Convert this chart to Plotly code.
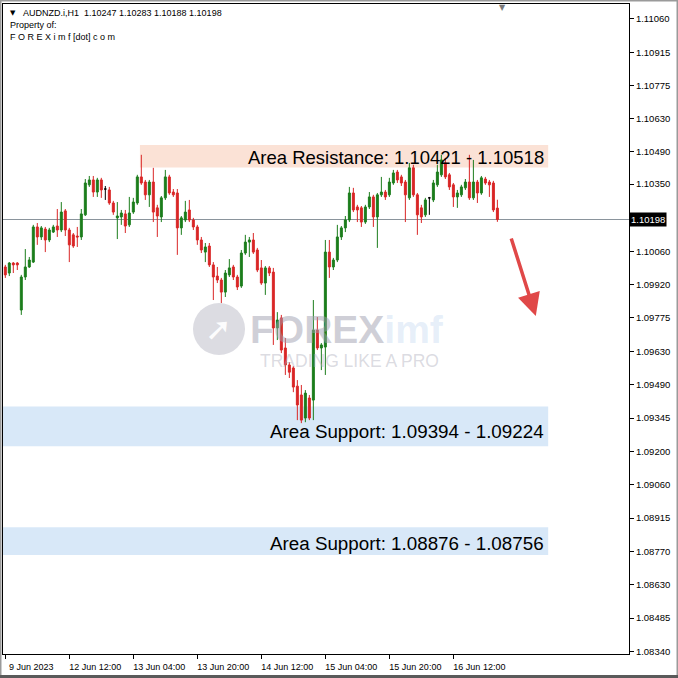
import numpy as np
import plotly.graph_objects as go

# ---------------- data (AUDNZD H1, one bar per hour from 9 Jun 2023 20:00) ----------------
open_ = [1.09994, 1.09968, 1.10011, 1.10011, 1.09809, 1.09951, 1.09994, 1.10015, 1.10166, 1.10123,
         1.10157, 1.10110, 1.10144, 1.10170, 1.10153, 1.10235, 1.10153, 1.10132, 1.10127, 1.10123,
         1.10218, 1.10347, 1.10368, 1.10316, 1.10368, 1.10329, 1.10325, 1.10269, 1.10205, 1.10209,
         1.10222, 1.10175, 1.10230, 1.10269, 1.10381, 1.10359, 1.10304, 1.10359, 1.10248, 1.10209,
         1.10291, 1.10381, 1.10316, 1.10312, 1.10162, 1.10196, 1.10239, 1.10196, 1.10166, 1.10110,
         1.10058, 1.10084, 1.10003, 1.09955, 1.09938, 1.09886, 1.09960, 1.09994, 1.09951, 1.09912,
         1.10054, 1.10101, 1.10110, 1.10067, 1.09990, 1.09925, 1.09990, 1.09972, 1.09732, 1.09775,
         1.09646, 1.09573, 1.09560, 1.09482, 1.09444, 1.09345, 1.09431, 1.09422, 1.09723, 1.09646,
         1.09650, 1.10058, 1.09994, 1.10024, 1.10123, 1.10162, 1.10196, 1.10312, 1.10252, 1.10248,
         1.10187, 1.10252, 1.10295, 1.10209, 1.10304, 1.10316, 1.10304, 1.10355, 1.10402, 1.10381,
         1.10359, 1.10291, 1.10420, 1.10304, 1.10248, 1.10218, 1.10291, 1.10282, 1.10347, 1.10390,
         1.10441, 1.10390, 1.10347, 1.10295, 1.10304, 1.10334, 1.10359, 1.10291, 1.10359, 1.10312,
         1.10372, 1.10359, 1.10355, 1.10247]
high = [1.10003, 1.10015, 1.10015, 1.10015, 1.09960, 1.10071, 1.10037, 1.10175, 1.10183, 1.10170,
        1.10166, 1.10162, 1.10175, 1.10243, 1.10273, 1.10243, 1.10162, 1.10140, 1.10166, 1.10243,
        1.10372, 1.10385, 1.10385, 1.10377, 1.10377, 1.10342, 1.10338, 1.10278, 1.10273, 1.10239,
        1.10239, 1.10295, 1.10291, 1.10390, 1.10476, 1.10368, 1.10368, 1.10420, 1.10261, 1.10299,
        1.10411, 1.10390, 1.10329, 1.10329, 1.10213, 1.10278, 1.10282, 1.10205, 1.10175, 1.10123,
        1.10097, 1.10097, 1.10015, 1.09994, 1.09947, 1.09981, 1.10028, 1.10003, 1.09960, 1.10067,
        1.10132, 1.10123, 1.10140, 1.10076, 1.10024, 1.09998, 1.09998, 1.09990, 1.09800, 1.09788,
        1.09689, 1.09585, 1.09568, 1.09508, 1.09487, 1.09465, 1.09444, 1.09852, 1.09779, 1.09667,
        1.10110, 1.10110, 1.10033, 1.10175, 1.10170, 1.10213, 1.10338, 1.10334, 1.10261, 1.10256,
        1.10261, 1.10316, 1.10304, 1.10312, 1.10381, 1.10325, 1.10377, 1.10411, 1.10411, 1.10390,
        1.10368, 1.10441, 1.10433, 1.10312, 1.10261, 1.10291, 1.10295, 1.10368, 1.10433, 1.10476,
        1.10463, 1.10398, 1.10355, 1.10325, 1.10347, 1.10372, 1.10476, 1.10454, 1.10368, 1.10385,
        1.10381, 1.10368, 1.10364, 1.10283]
low = [1.09947, 1.09955, 1.09968, 1.09981, 1.09788, 1.09938, 1.09990, 1.10011, 1.10089, 1.10110,
       1.10058, 1.10101, 1.10140, 1.10123, 1.10144, 1.10127, 1.10015, 1.10076, 1.10080, 1.10110,
       1.10213, 1.10338, 1.10295, 1.10295, 1.10291, 1.10282, 1.10261, 1.10218, 1.10114, 1.10175,
       1.10140, 1.10166, 1.10222, 1.10261, 1.10347, 1.10282, 1.10252, 1.10187, 1.10123, 1.10187,
       1.10282, 1.10304, 1.10295, 1.10046, 1.10132, 1.10187, 1.10187, 1.10153, 1.10089, 1.10054,
       1.10015, 1.09994, 1.09852, 1.09925, 1.09839, 1.09865, 1.09951, 1.09938, 1.09895, 1.09904,
       1.10046, 1.10037, 1.10050, 1.09972, 1.09917, 1.09874, 1.09955, 1.09659, 1.09680, 1.09624,
       1.09530, 1.09517, 1.09456, 1.09336, 1.09323, 1.09327, 1.09336, 1.09336, 1.09637, 1.09551,
       1.09530, 1.09947, 1.09981, 1.10015, 1.10110, 1.10144, 1.10187, 1.10230, 1.10187, 1.10166,
       1.10179, 1.10243, 1.10166, 1.10076, 1.10295, 1.10282, 1.10295, 1.10347, 1.10355, 1.10342,
       1.10187, 1.10282, 1.10295, 1.10132, 1.10183, 1.10209, 1.10218, 1.10273, 1.10338, 1.10381,
       1.10372, 1.10325, 1.10252, 1.10248, 1.10295, 1.10325, 1.10282, 1.10282, 1.10269, 1.10304,
       1.10347, 1.10295, 1.10230, 1.10188]
close = [1.09960, 1.10011, 1.10003, 1.10003, 1.09951, 1.09994, 1.10024, 1.10166, 1.10123, 1.10162,
         1.10110, 1.10153, 1.10166, 1.10153, 1.10230, 1.10153, 1.10089, 1.10084, 1.10123, 1.10222,
         1.10355, 1.10368, 1.10316, 1.10368, 1.10325, 1.10329, 1.10269, 1.10230, 1.10213, 1.10226,
         1.10170, 1.10226, 1.10273, 1.10381, 1.10355, 1.10304, 1.10359, 1.10230, 1.10213, 1.10291,
         1.10381, 1.10312, 1.10304, 1.10162, 1.10205, 1.10230, 1.10196, 1.10166, 1.10110, 1.10067,
         1.10080, 1.10003, 1.09951, 1.09938, 1.09886, 1.09968, 1.09990, 1.09951, 1.09908, 1.10054,
         1.10101, 1.10110, 1.10058, 1.09981, 1.09925, 1.09990, 1.09968, 1.09732, 1.09766, 1.09637,
         1.09573, 1.09542, 1.09478, 1.09401, 1.09336, 1.09452, 1.09345, 1.09723, 1.09646, 1.09659,
         1.10058, 1.09994, 1.10024, 1.10123, 1.10162, 1.10196, 1.10312, 1.10239, 1.10239, 1.10187,
         1.10252, 1.10295, 1.10209, 1.10304, 1.10316, 1.10295, 1.10359, 1.10398, 1.10368, 1.10355,
         1.10304, 1.10420, 1.10304, 1.10218, 1.10209, 1.10282, 1.10291, 1.10355, 1.10402, 1.10454,
         1.10381, 1.10338, 1.10295, 1.10312, 1.10338, 1.10359, 1.10291, 1.10359, 1.10312, 1.10377,
         1.10355, 1.10347, 1.10239, 1.10198]

x_tick_bars = [0, 16, 32, 48, 64, 80, 96, 112]
x_tick_labels = ["9 Jun 2023", "12 Jun 12:00", "13 Jun 04:00", "13 Jun 20:00",
                 "14 Jun 12:00", "15 Jun 04:00", "15 Jun 20:00", "16 Jun 12:00"]
y_tick_values = [1.11060, 1.10915, 1.10775, 1.10630, 1.10490, 1.10350, 1.10060, 1.09920,
                 1.09775, 1.09630, 1.09490, 1.09345, 1.09200, 1.09060, 1.08915, 1.08770,
                 1.08630, 1.08485, 1.08340]
y_tick_labels = ["%.5f" % v for v in y_tick_values]

current_price = 1.10198
resistance = (1.10421, 1.10518)
support_1 = (1.09224, 1.09394)
support_2 = (1.08756, 1.08876)
resistance_start_bar = 33.65
zone_end_bar = 135.7
arrow_from = (126.35, 1.10123)
arrow_to = (132.6, 1.09783)
header = "AUDNZD.i,H1  1.10247 1.10283 1.10188 1.10198"

# ---------------- figure ----------------
o = np.array(open_); h = np.array(high); l = np.array(low); c = np.array(close)
idx = np.arange(len(c))
doji = o == c
main = ~doji

GREEN = "#1c7d1c"
RED = "#d92626"

fig = go.Figure()
fig.add_trace(go.Candlestick(
    x=idx[main], open=o[main], high=h[main], low=l[main], close=c[main],
    increasing=dict(line=dict(color=GREEN, width=1), fillcolor=GREEN),
    decreasing=dict(line=dict(color=RED, width=1), fillcolor=RED),
    whiskerwidth=0, hoverinfo="skip", showlegend=False))
fig.add_trace(go.Candlestick(
    x=idx[doji], open=o[doji], high=h[doji], low=l[doji], close=c[doji],
    increasing=dict(line=dict(color="black", width=1), fillcolor="black"),
    decreasing=dict(line=dict(color="black", width=1), fillcolor="black"),
    whiskerwidth=0, hoverinfo="skip", showlegend=False))

shapes = []
shapes.append(dict(type="rect", xref="x", yref="y", x0=resistance_start_bar, x1=zone_end_bar,
                   y0=resistance[0], y1=resistance[1], fillcolor="#fbe2d6", line=dict(width=0),
                   layer="below"))
for lo_, hi_ in (support_1, support_2):
    shapes.append(dict(type="rect", xref="x", yref="y", x0=-5, x1=zone_end_bar,
                       y0=lo_, y1=hi_, fillcolor="#d8e8f8", line=dict(width=0), layer="below"))
shapes.append(dict(type="line", xref="paper", yref="y", x0=0, x1=1, y0=current_price,
                   y1=current_price, line=dict(color="#8a949c", width=1), layer="below"))
# watermark logo circle
shapes.append(dict(type="circle", xref="paper", yref="paper", x0=0.3035, x1=0.3866,
                   y0=0.46, y1=0.54, fillcolor="#dcdce2", line=dict(width=0), layer="below"))
# window frame
shapes.append(dict(type="rect", xref="paper", yref="paper", x0=-0.0040, x1=1.0775,
                   y0=-0.0355, y1=1.0055, line=dict(color="#9a9a9a", width=2), fillcolor="rgba(0,0,0,0)"))
shapes.append(dict(type="rect", xref="paper", yref="paper", x0=-0.0048, x1=1.0783,
                   y0=-0.0369, y1=-0.0323, line=dict(width=0), fillcolor="#5a5a5a"))

FONT = "Liberation Sans, Arial, sans-serif"
ann = []
# zone labels
ann.append(dict(x=135.2, y=1.10463, xref="x", yref="y", xanchor="right", yanchor="middle",
                text="Area Resistance: 1.10421 - 1.10518", showarrow=False,
                font=dict(family=FONT, size=18.5, color="black")))
ann.append(dict(x=135.2, y=1.09289, xref="x", yref="y", xanchor="right", yanchor="middle",
                text="Area Support: 1.09394 - 1.09224", showarrow=False,
                font=dict(family=FONT, size=18.8, color="black")))
ann.append(dict(x=135.2, y=1.08807, xref="x", yref="y", xanchor="right", yanchor="middle",
                text="Area Support: 1.08876 - 1.08756", showarrow=False,
                font=dict(family=FONT, size=18.8, color="black")))
# arrow
ann.append(dict(x=arrow_to[0], y=arrow_to[1], ax=arrow_from[0], ay=arrow_from[1],
                xref="x", yref="y", axref="x", ayref="y", text="", showarrow=True,
                arrowcolor="#e04848", arrowwidth=3.5, arrowhead=2, arrowsize=1.3))
# current price tag
ann.append(dict(x=1.0, y=current_price, xref="paper", yref="y", xanchor="left", yanchor="middle",
                text="1.10198", showarrow=False, bgcolor="black", borderpad=1,
                font=dict(family=FONT, size=9.5, color="white")))
# header
ann.append(dict(x=0.0075, y=0.986, xref="paper", yref="paper", xanchor="left", yanchor="middle",
                text="▼", showarrow=False, font=dict(family="DejaVu Sans", size=7, color="black")))
ann.append(dict(x=0.0288, y=0.986, xref="paper", yref="paper", xanchor="left", yanchor="middle",
                text=header, showarrow=False, font=dict(family=FONT, size=9, color="black")))
ann.append(dict(x=0.0075, y=0.9675, xref="paper", yref="paper", xanchor="left", yanchor="middle",
                text="Property of:", showarrow=False, font=dict(family=FONT, size=9, color="black")))
ann.append(dict(x=0.0075, y=0.949, xref="paper", yref="paper", xanchor="left", yanchor="middle",
                text="F O R E X i m f [dot] c o m", showarrow=False,
                font=dict(family=FONT, size=9, color="black")))
# shift marker at top
ann.append(dict(x=0.7987, y=1.0, xref="paper", yref="paper", xanchor="center", yanchor="top",
                yshift=3, text="▼", showarrow=False,
                font=dict(family="DejaVu Sans", size=8, color="#7a7a7a")))
# watermark
ann.append(dict(x=0.5495, y=0.5, xref="paper", yref="paper", xanchor="center", yanchor="middle",
                text="<b>FOREX<span style='color:rgba(170,200,235,0.6)'>imf</span></b>",
                showarrow=False, font=dict(family=FONT, size=39, color="rgba(160,160,175,0.5)")))
ann.append(dict(x=0.5543, y=0.451, xref="paper", yref="paper", xanchor="center", yanchor="middle",
                text="TRADING LIKE A PRO", showarrow=False,
                font=dict(family=FONT, size=17.5, color="rgba(175,175,190,0.45)")))
ann.append(dict(x=0.345, y=0.50, xref="paper", yref="paper", xanchor="center", yanchor="middle",
                text="<b>➚</b>", showarrow=False,
                font=dict(family="DejaVu Sans", size=32, color="rgba(255,255,255,0.95)")))

fig.update_layout(
    width=678, height=678,
    margin=dict(l=3, r=49, t=4, b=24),
    paper_bgcolor="white", plot_bgcolor="white",
    shapes=shapes, annotations=ann, showlegend=False,
    font=dict(family=FONT, size=9.5, color="black"),
    xaxis=dict(range=[-0.575, 155.9], showgrid=False, zeroline=False,
               showline=True, mirror=True, linecolor="black", linewidth=1,
               ticks="outside", ticklen=4, tickcolor="black",
               tickvals=x_tick_bars, ticktext=x_tick_labels, ticklabelshift=26,
               tickfont=dict(family=FONT, size=9, color="black"),
               rangeslider=dict(visible=False), fixedrange=True),
    yaxis=dict(range=[1.08331, 1.11124], side="right", showgrid=False, zeroline=False,
               showline=True, mirror=True, linecolor="black", linewidth=1,
               ticks="outside", ticklen=4, tickcolor="black",
               tickvals=y_tick_values, ticktext=y_tick_labels,
               tickfont=dict(family=FONT, size=9.5, color="black"), fixedrange=True),
)

fig.write_html(
    "out.html",
    config={"displayModeBar": False, "staticPlot": True},
    post_script="document.body.style.margin='0';document.body.style.padding='0';"
                "document.body.style.overflow='hidden';",
)
